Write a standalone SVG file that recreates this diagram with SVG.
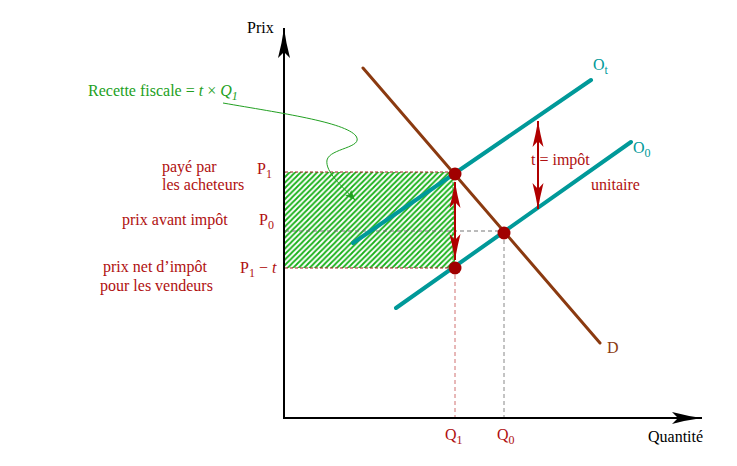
<svg xmlns="http://www.w3.org/2000/svg" width="737" height="466" viewBox="0 0 737 466">
<defs>
<style>
text{font-family:"Liberation Serif","Times New Roman",serif;font-size:16px}
.red{fill:#b01010}
.teal{fill:#009999}
.brown{fill:#8b3a10}
.green{fill:#22a022}
.blk{fill:#000}
.sub{font-size:12px}
</style>
<pattern id="hatch" patternUnits="userSpaceOnUse" width="5.5" height="5.5">
<rect width="5.5" height="5.5" fill="#fff"/>
<path d="M-1,6.5 L6.5,-1 M-1,1 L1,-1 M4.5,6.5 L6.5,4.5" stroke="#18b018" stroke-width="1.8"/>
</pattern>
<marker id="ah" viewBox="0 -6 30 12" refX="30" refY="0" markerWidth="30" markerHeight="12" markerUnits="userSpaceOnUse" orient="auto">
<path d="M0,-6 Q15,-2 30,0 Q15,2 0,6 L6,0 Z" fill="#000"/>
</marker>
<marker id="rh" viewBox="0 -6 26 12" refX="26" refY="0" markerWidth="26" markerHeight="12" markerUnits="userSpaceOnUse" orient="auto-start-reverse">
<path d="M0,-5.5 Q14,-2 26,0 Q14,2 0,5.5 L6,0 Z" fill="#b00000"/>
</marker>
<marker id="gh" viewBox="0 -4 10 8" refX="10" refY="0" markerWidth="10" markerHeight="8" markerUnits="userSpaceOnUse" orient="auto">
<path d="M0,-4 L10,0 L0,4 L2,0 Z" fill="#22a022"/>
</marker>
</defs>
<rect width="737" height="466" fill="#fff"/>

<g id="area">
<rect x="285" y="172" width="170" height="96" fill="url(#hatch)"/>
<line x1="285" y1="172" x2="455" y2="172" stroke="#a02020" stroke-width="1" stroke-dasharray="3,2"/>
<line x1="285" y1="268" x2="455" y2="268" stroke="#a02020" stroke-width="1" stroke-dasharray="3,2"/>
<line x1="453" y1="172" x2="453" y2="268" stroke="#22aa22" stroke-width="1" stroke-dasharray="3,2"/>
</g>

<g id="guides" fill="none" stroke-width="1" stroke-dasharray="4,3">
<line x1="285" y1="231" x2="504" y2="231" stroke="#777"/>
<line x1="504" y1="233" x2="504" y2="418" stroke="#888"/>
<line x1="455" y1="268" x2="455" y2="418" stroke="#d07070"/>
</g>

<g id="axes" stroke="#000" stroke-width="2" fill="none">
<line x1="284" y1="419" x2="284" y2="28" marker-end="url(#ah)"/>
<line x1="283" y1="418" x2="702" y2="418" marker-end="url(#ah)"/>
</g>

<g id="curves" fill="none" stroke-linecap="round">
<line id="O0" x1="396" y1="308" x2="631" y2="142" stroke="#009999" stroke-width="4"/>
<line id="Ot" x1="353" y1="243" x2="591" y2="80" stroke="#009999" stroke-width="4"/>
<line id="D" x1="363" y1="68" x2="600" y2="343" stroke="#8b3a10" stroke-width="3"/>
</g>

<g id="connectors" fill="none">
<path d="M223,103 C280,113 345,122 356,136 C364,148 330,148 327,160 C325,172 342,186 355,200" stroke="#22a022" stroke-width="1" marker-end="url(#gh)"/>
<line x1="455" y1="182" x2="455" y2="260" stroke="#b00000" stroke-width="2" marker-start="url(#rh)" marker-end="url(#rh)"/>
<line x1="538" y1="121" x2="538" y2="209" stroke="#b00000" stroke-width="2" marker-start="url(#rh)" marker-end="url(#rh)"/>
</g>

<g id="points" fill="#a00000">
<circle cx="455" cy="174" r="6.5"/>
<circle cx="504" cy="233" r="6.5"/>
<circle cx="455" cy="268" r="6.5"/>
</g>

<g id="labels">
<text x="247" y="33" class="blk">Prix</text>
<text x="648" y="442" class="blk">Quantité</text>
<text x="445" y="440" class="red">Q<tspan class="sub" dy="4">1</tspan></text>
<text x="497" y="440" class="red">Q<tspan class="sub" dy="4">0</tspan></text>
<text x="607" y="353" class="brown">D</text>
<text x="593" y="70" class="teal">O<tspan class="sub" dy="4">t</tspan></text>
<text x="633" y="153" class="teal">O<tspan class="sub" dy="4">0</tspan></text>
<text x="531" y="165" class="red">t = impôt</text>
<text x="591" y="190" class="red">unitaire</text>
<text x="257" y="174" class="red">P<tspan class="sub" dy="4">1</tspan></text>
<text x="259" y="225" class="red">P<tspan class="sub" dy="4">0</tspan></text>
<text x="240" y="273" class="red">P<tspan class="sub" dy="4">1</tspan><tspan dy="-4"> − </tspan><tspan font-style="italic">t</tspan></text>
<text x="162" y="172" class="red">payé par</text>
<text x="162" y="190" class="red">les acheteurs</text>
<text x="122" y="225" class="red">prix avant impôt</text>
<text x="103" y="272" class="red">prix net d’impôt</text>
<text x="100" y="291" class="red">pour les vendeurs</text>
<text x="88" y="96" class="green">Recette fiscale = <tspan font-style="italic">t</tspan> × <tspan font-style="italic">Q</tspan><tspan class="sub" font-style="italic" dy="4">1</tspan></text>
</g>
</svg>
